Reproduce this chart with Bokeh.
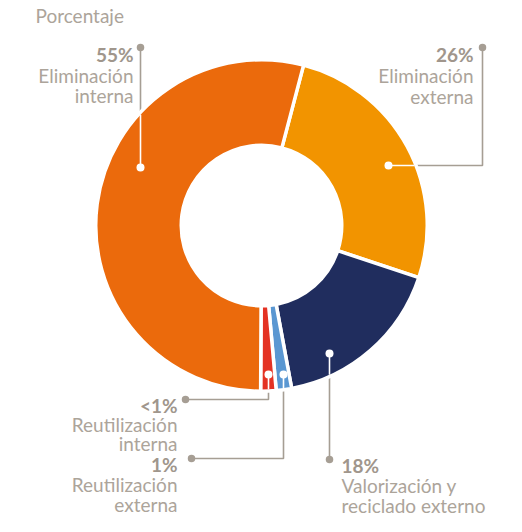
import math
from bokeh.plotting import figure
from bokeh.models import Range1d, ColumnDataSource
from bokeh.core.properties import value
from bokeh.embed import file_html
from bokeh.resources import INLINE

# ---- data (clockwise from the top-right boundary) ----
categories = ["Eliminación externa", "Valorización y reciclado externo",
              "Reutilización externa", "Reutilización interna", "Eliminación interna"]
shares = [26, 17, 1.5, 1.5, 54]          # slice sizes as drawn
pct_labels = ["26%", "18%", "1%", "<1%", "55%"]
name_lines = [["Eliminación", "externa"],
              ["Valorización y", "reciclado externo"],
              ["Reutilización", "externa"],
              ["Reutilización", "interna"],
              ["Eliminación", "interna"]]
colors = ["#F29400", "#202D5E", "#5A97D2", "#E43223", "#EB6A0C"]
title_text = "Porcentaje"

# ---- layout (picture pixels, origin at the figure's top-left) ----
W, H = 506, 516
CX, CY = 261, 225
R_OUT, R_IN = 164, 82
GAP = 3.5
START_CW = 14.7
GRAY_TXT = "#ACA49A"
GRAY_PCT = "#A0968C"
GRAY_LINE = "#A69E94"
FONT = "Lato"
FS = "19px"

label_layout = [
    dict(anchor=(388, 165), corners=[(482, 165)], dot=(482, 47), align="right", x=473, base=[54, 75, 96]),
    dict(anchor=(329, 353), corners=[], dot=(329, 459), align="left", x=341, base=[465, 485, 505]),
    dict(anchor=(283, 374), corners=[(283, 458)], dot=(191, 458), align="right", x=177, base=[464, 484, 504]),
    dict(anchor=(268, 374), corners=[(268, 399)], dot=(185, 399), align="right", x=177, base=[405, 424, 443]),
    dict(anchor=(140, 167), corners=[], dot=(140, 47), align="right", x=133, base=[54, 75, 95]),
]


def Y(py):
    return H - py


p = figure(width=W, height=H, x_range=Range1d(0, W), y_range=Range1d(0, H),
           output_backend="svg", toolbar_location=None, min_border=0,
           x_axis_type=None, y_axis_type=None)
p.grid.visible = False
p.outline_line_color = None
p.background_fill_color = "white"
p.border_fill_color = "white"

# title
p.text(x=[35], y=[Y(15)], text=[title_text], text_font=value(FONT), text_font_size=FS,
       text_color=GRAY_TXT, text_align="left", text_baseline="alphabetic")

# gray leader lines (under the donut)
for lay in label_layout:
    pts = [lay["anchor"]] + lay["corners"] + [lay["dot"]]
    p.line(x=[q[0] for q in pts], y=[Y(q[1]) for q in pts], line_color=GRAY_LINE, line_width=1.6)

# donut
total = sum(shares)
acc = START_CW
starts, ends = [], []
for s in shares:
    a0 = acc
    a1 = acc + s / total * 360.0
    starts.append(math.radians(90 - a0))
    ends.append(math.radians(90 - a1))
    acc = a1
src = ColumnDataSource(dict(start=starts, end=ends, color=colors, cat=categories))
p.annular_wedge(x=CX, y=Y(CY), inner_radius=R_IN - GAP / 2, outer_radius=R_OUT + GAP / 2,
                start_angle="start", end_angle="end", direction="clock",
                fill_color="color", line_color="white", line_width=GAP, source=src)


def exit_point(a, b):
    # point where segment a->b leaves the outer circle
    ax, ay = a[0] - CX, a[1] - CY
    dx, dy = b[0] - a[0], b[1] - a[1]
    A = dx * dx + dy * dy
    B = 2 * (ax * dx + ay * dy)
    C = ax * ax + ay * ay - R_OUT * R_OUT
    t = (-B + math.sqrt(B * B - 4 * A * C)) / (2 * A)
    return (a[0] + t * dx, a[1] + t * dy)


# white parts of the leaders inside the slices, dots, texts
for lay, pct, names in zip(label_layout, pct_labels, name_lines):
    a = lay["anchor"]
    nxt = (lay["corners"] + [lay["dot"]])[0]
    e = exit_point(a, nxt)
    p.line(x=[a[0], e[0]], y=[Y(a[1]), Y(e[1])], line_color="white", line_width=1.6)
    p.scatter(x=[a[0]], y=[Y(a[1])], size=8, marker="circle", fill_color="white", line_color=None)
    p.scatter(x=[lay["dot"][0]], y=[Y(lay["dot"][1])], size=7.5, marker="circle",
              fill_color=GRAY_LINE, line_color=None)
    p.text(x=[lay["x"]], y=[Y(lay["base"][0])], text=[pct], text_font=value(FONT),
           text_font_size=FS, text_font_style="bold", text_color=GRAY_PCT,
           text_align=lay["align"], text_baseline="alphabetic")
    p.text(x=[lay["x"]] * len(names), y=[Y(b) for b in lay["base"][1:]], text=names,
           text_font=value(FONT), text_font_size=FS, text_color=GRAY_TXT,
           text_align=lay["align"], text_baseline="alphabetic")

open("out.html", "w").write(file_html(p, INLINE))
